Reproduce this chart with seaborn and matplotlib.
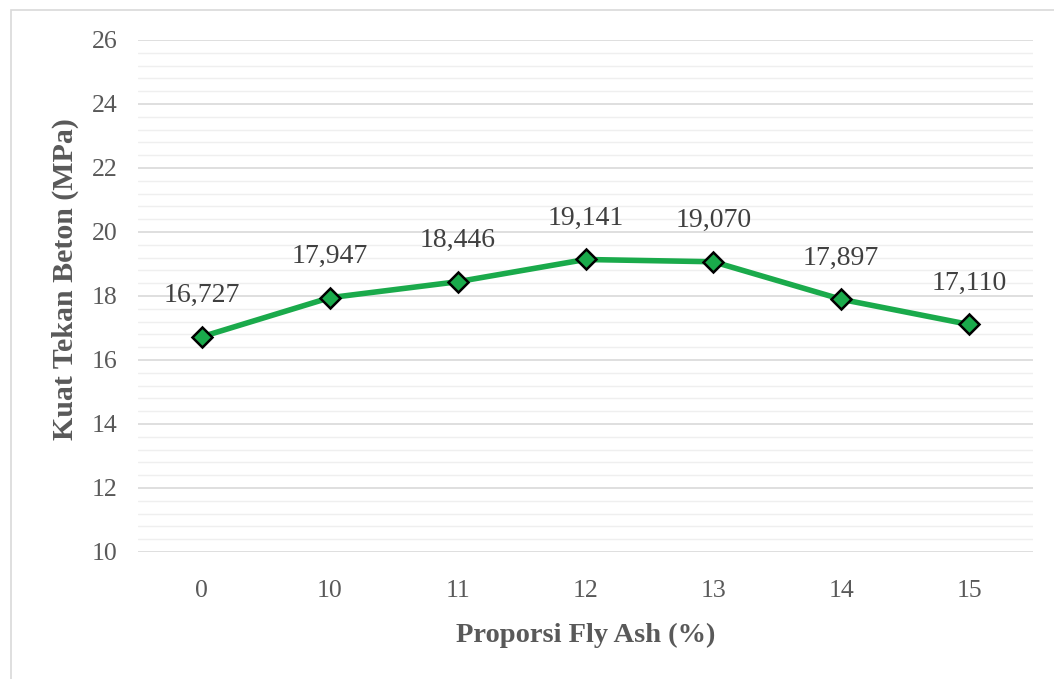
import matplotlib
matplotlib.use("Agg")
import matplotlib.pyplot as plt
import seaborn as sns
import pandas as pd
from matplotlib.patches import Rectangle
from matplotlib.ticker import MultipleLocator

# Compressive strength vs. fly ash proportion
fly_ash = ["0", "10", "11", "12", "13", "14", "15"]
strength = [16.727, 17.947, 18.446, 19.141, 19.070, 17.897, 17.110]

df = pd.DataFrame({"fly_ash": fly_ash, "strength": strength})

sns.set_theme(style="white")
plt.rcParams["font.family"] = ["Liberation Serif", "DejaVu Serif"]

fig = plt.figure(figsize=(10.54, 6.79), dpi=100)
W, H = 1054, 679
ax = fig.add_axes([138 / W, 1 - 552 / H, (1033 - 138) / W, (552 - 40) / H])

# frame around chart area
fig.patches.append(Rectangle((11 / W, -0.05), 1.1, 1 - 10 / H + 0.05,
                             transform=fig.transFigure, fill=False,
                             edgecolor="#d9d9d9", linewidth=1.2, zorder=0))

green = "#1aaa4b"
sns.lineplot(data=df, x="fly_ash", y="strength", ax=ax, color=green,
             linewidth=4.0, marker="D", markersize=10.5,
             markerfacecolor=green, markeredgecolor="black",
             markeredgewidth=1.8, sort=False, zorder=5)

for i, v in enumerate(strength):
    ax.annotate(f"{v:.3f}".replace(".", ","), xy=(i, v), xytext=(0, 41),
                textcoords="offset pixels", ha="center", va="center",
                fontsize=20, color="#404040")

ax.set_ylim(10, 26)
ax.set_xlim(-0.5, len(fly_ash) - 0.5)
ax.yaxis.set_major_locator(MultipleLocator(2))
ax.yaxis.set_minor_locator(MultipleLocator(0.4))
ax.grid(True, which="major", axis="y", color="#d9d9d9", linewidth=1.2)
ax.grid(True, which="minor", axis="y", color="#efefef", linewidth=1.0)
ax.grid(False, axis="x")
for s in ax.spines.values():
    s.set_visible(False)
ax.tick_params(axis="both", which="both", length=0, labelsize=18.5,
               labelcolor="#595959")
ax.tick_params(axis="y", pad=15)
ax.tick_params(axis="x", pad=20)

ax.set_xlabel("Proporsi Fly Ash (%)", fontsize=20.5, fontweight="bold",
              color="#595959")
ax.set_ylabel("Kuat Tekan Beton (MPa)", fontsize=21.5, fontweight="bold",
              color="#595959")
ax.xaxis.set_label_coords((138 + 1033) / 2 / W, 1 - 635 / H,
                          transform=fig.transFigure)
ax.yaxis.set_label_coords(65 / W, 1 - 279 / H, transform=fig.transFigure)
ax.xaxis.label.set_va("center")
ax.yaxis.label.set_va("center")

fig.savefig("out.png", dpi=100)
